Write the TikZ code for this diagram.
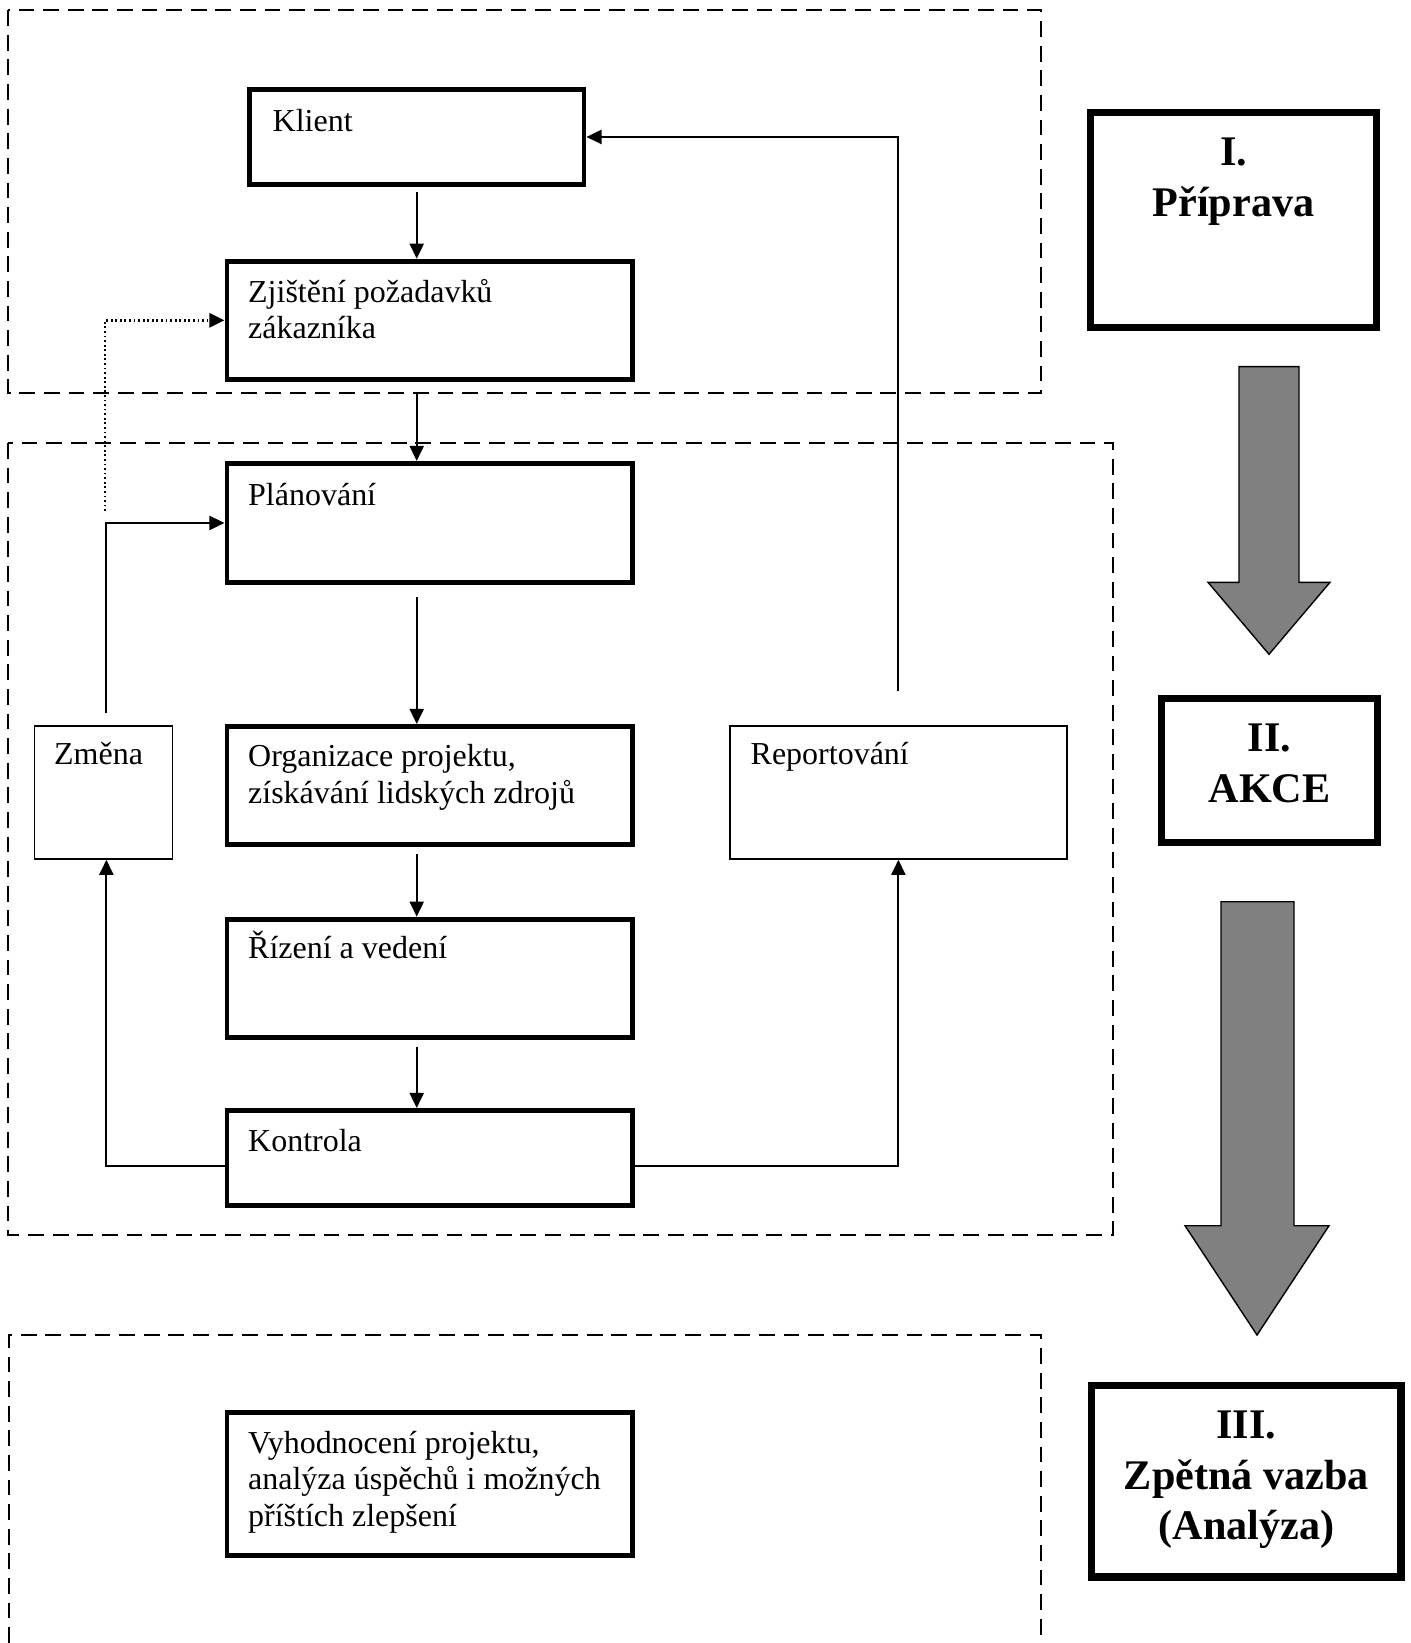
\documentclass[tikz,border=0pt]{standalone}
\usepackage{fontspec}
\setmainfont{Liberation Serif}
\usetikzlibrary{arrows.meta}

\tikzset{
    flowbox/.style={draw, line width=1.4pt, anchor=north west, inner sep=0pt, minimum width=4.055cm},
    thinbox/.style={draw, line width=0.5pt, anchor=north west, inner sep=0pt, minimum height=1.33cm},
    stagebox/.style={draw, line width=2.1pt, anchor=north west, inner sep=0pt},
    boxtext/.style={anchor=base west, inner sep=0pt, align=left, font=\fontsize{9.1}{10.4}\selectfont},
    stagetext/.style={anchor=base, inner sep=0pt, align=center, font=\bfseries\fontsize{12}{14.4}\selectfont},
    phase/.style={dash pattern=on 4.5pt off 2.5pt, line width=0.6pt},
    arr/.style={-{Triangle[length=4.3pt,width=4pt]}, line width=0.6pt},
    bigarrow/.style={draw, line width=0.4pt, fill=black!50},
}

\begin{document}
\begin{tikzpicture}
                    \useasboundingbox (0,0) rectangle (14.10,-16.43);

                    % faze
                    \draw[phase] (0.084,-0.103) rectangle (10.41,-3.93);
                    \draw[phase] (0.084,-4.43) rectangle (11.13,-12.35);
                    \draw[phase] (0.09,-16.43) |- (10.41,-13.35) -- (10.41,-16.43);

                    \node[flowbox, minimum width=3.345cm, minimum height=0.95cm] (klient) at (2.47,-0.87) {};
                    \node[flowbox, minimum height=1.183cm] (zjisteni) at (2.245,-2.587) {};
                    \node[flowbox, minimum height=1.19cm] (planovani) at (2.245,-4.61) {};
                    \node[flowbox, minimum height=1.18cm] (organizace) at (2.245,-7.24) {};
                    \node[flowbox, minimum height=1.18cm] (rizeni) at (2.245,-9.167) {};
                    \node[flowbox, minimum height=0.95cm] (kontrola) at (2.245,-11.08) {};
                    \node[flowbox, minimum height=1.43cm] (vyhodnoceni) at (2.245,-14.10) {};
                    \node[thinbox, minimum width=1.38cm] (zmena) at (0.335,-7.25) {};
                    \node[thinbox, minimum width=3.37cm] (report) at (7.29,-7.25) {};

                    % base = posledni radek
                    \node[boxtext] (klientT) at ([shift={(0.25,-0.45)}]klient.north west) {Klient};
                    \node[boxtext] (zjisteniT) at ([shift={(0.23,-0.799)}]zjisteni.north west) {Zjištění požadavků\\zákazníka};
                    \node[boxtext] (planovaniT) at ([shift={(0.23,-0.44)}]planovani.north west) {Plánování};
                    \node[boxtext] (organizaceT) at ([shift={(0.23,-0.793)}]organizace.north west) {Organizace projektu,\\získávání lidských zdrojů};
                    \node[boxtext] (rizeniT) at ([shift={(0.23,-0.413)}]rizeni.north west) {Řízení a vedení};
                    \node[boxtext] (kontrolaT) at ([shift={(0.23,-0.433)}]kontrola.north west) {Kontrola};
                    \node[boxtext] (vyhodnoceniT) at ([shift={(0.23,-1.165)}]vyhodnoceni.north west) {Vyhodnocení projektu,\\analýza úspěchů i možných\\příštích zlepšení};
                    \node[boxtext] (zmenaT) at ([shift={(0.2,-0.395)}]zmena.north west) {Změna};
                    \node[boxtext] (reportT) at ([shift={(0.21,-0.398)}]report.north west) {Reportování};

                    \draw[arr] ([yshift=-0.05cm]klient.south) -- (klient.south |- zjisteni.north);
                    \draw[arr] ([yshift=-0.12cm]klient.south |- zjisteni.south) -- (klient.south |- planovani.north);
                    \draw[arr] ([yshift=-0.12cm]klient.south |- planovani.south) -- (klient.south |- organizace.north);
                    \draw[arr] ([yshift=-0.07cm]klient.south |- organizace.south) -- (klient.south |- rizeni.north);
                    \draw[arr] ([yshift=-0.07cm]klient.south |- rizeni.south) -- (klient.south |- kontrola.north);

                    \draw[arr] ([yshift=-0.08cm]kontrola.west) -| ([xshift=0.03cm]zmena.south);
                    \draw[arr] ([yshift=-0.08cm]kontrola.east) -| (report.south);
                    \draw[arr] ([xshift=0.03cm,yshift=0.12cm]zmena.north) |- (planovani.west);
                    \draw[arr] ([yshift=0.34cm]report.north) |- (klient.east);
                    \coordinate (zmenadot) at (1.05,-5.11);
                    \draw[arr, line width=0.8pt, dash pattern=on 0.5pt off 0.8pt] (zmenadot) |- (zjisteni.west);

                    % etapy
                    \node[stagebox, minimum width=2.856cm, minimum height=2.146cm] (stageI) at (10.87,-1.09) {};
                    \node[stagebox, minimum width=2.156cm, minimum height=1.436cm] (stageII) at (11.58,-6.95) {};
                    \node[stagebox, minimum width=3.093cm, minimum height=1.913cm] (stageIII) at (10.88,-13.82) {};
                    \node[stagetext] (stageIT) at ([yshift=-1.072cm]stageI.north) {I.\\Příprava};
                    \node[stagetext] (stageIIT) at ([yshift=-1.072cm]stageII.north) {II.\\AKCE};
                    \node[stagetext] (stageIIIT) at ([yshift=-1.578cm]stageIII.north) {III.\\Zpětná vazba\\(Analýza)};

                    \draw[bigarrow] (12.39,-3.666) -- (12.99,-3.666) -- (12.99,-5.823) -- (13.30,-5.823)
                        -- (12.69,-6.543) -- (12.08,-5.823) -- (12.39,-5.823) -- cycle;
                    \draw[bigarrow] (12.21,-9.017) -- (12.94,-9.017) -- (12.94,-12.257) -- (13.29,-12.257)
                        -- (12.57,-13.35) -- (11.85,-12.257) -- (12.21,-12.257) -- cycle;

                \end{tikzpicture}
\end{document}
